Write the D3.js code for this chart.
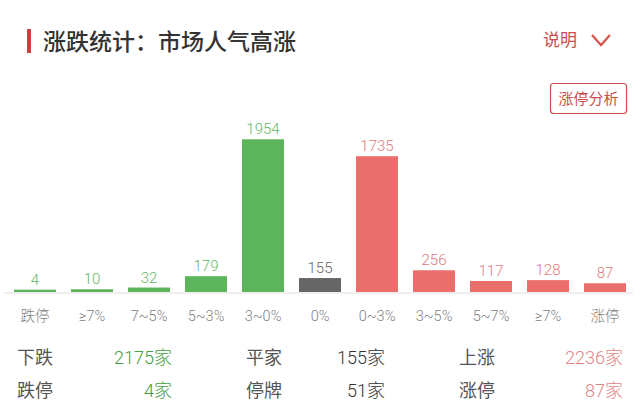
<!DOCTYPE html>
<html>
<head>
<meta charset="utf-8">
<script src="https://cdn.jsdelivr.net/npm/d3@7"></script>
<style>
html,body{margin:0;padding:0;background:#fff;}
svg{display:block;}
text{font-family:"Noto Sans CJK SC","Noto Sans",sans-serif;}
</style>
</head>
<body>
<script>
const title = "涨跌统计：市场人气高涨";
const categories = ["跌停","≥7%","7~5%","5~3%","3~0%","0%","0~3%","3~5%","5~7%","≥7%","涨停"];
const keys = categories.map((c,i)=>i+"|"+c);
const values = [4,10,32,179,1954,155,1735,256,117,128,87];
const groups = ["down","down","down","down","down","flat","up","up","up","up","up"];
const summaryLabels = [["下跌","平家","上涨"],["跌停","停牌","涨停"]];
const summaryValues = [["2175家","155家","2236家"],["4家","51家","87家"]];

const W=640,H=420;
const numFont='Roboto,"Noto Sans CJK SC",sans-serif';
const barColor={down:"#5cb55a",flat:"#666666",up:"#ea6e6c"};
const labelColor={down:"#66b766",flat:"#666666",up:"#e07a7a"};
const sumColor=["#3f9e3f","#333333","#df8585"];

const svg=d3.select("body").append("svg").attr("width",W).attr("height",H);

// header
svg.append("rect").attr("x",27).attr("y",29).attr("width",4).attr("height",24).attr("fill","#c9413e");
svg.append("text").attr("x",43).attr("y",50).attr("font-size",23).attr("font-weight",500).attr("fill","#333").text(title);
svg.append("text").attr("x",543).attr("y",46).attr("font-size",17).attr("fill","#c9504d").text("说明");
svg.append("path").attr("d","M592,35 L601,45 L610,35").attr("fill","none").attr("stroke","#d9534f").attr("stroke-width",2.2);
svg.append("rect").attr("x",550.5).attr("y",83.5).attr("width",76).attr("height",30).attr("rx",3).attr("fill","#fff").attr("stroke","#c9504d").attr("stroke-width",1.2);
svg.append("text").attr("x",588.5).attr("y",104).attr("text-anchor","middle").attr("font-size",15).attr("fill","#c9504d").text("涨停分析");

// scales
const x=d3.scaleBand().domain(keys).range([6.5,633.5]).paddingInner(15/57).paddingOuter(7.5/57);
const baseline=292;
const y=d3.scaleLinear().domain([0,d3.max(values)]).range([290,139.3]);

// axis line
svg.append("line").attr("x1",4).attr("x2",633).attr("y1",baseline+1).attr("y2",baseline+1).attr("stroke","#e8e8e8").attr("stroke-width",1.5);

const g=svg.append("g");
g.selectAll("rect.bar").data(values).join("rect").attr("class","bar")
 .attr("x",(d,i)=>x(keys[i])).attr("width",x.bandwidth())
 .attr("y",d=>y(d)).attr("height",d=>baseline-y(d))
 .attr("fill",(d,i)=>barColor[groups[i]]);
g.selectAll("text.val").data(values).join("text").attr("class","val")
 .attr("x",(d,i)=>x(keys[i])+x.bandwidth()/2).attr("y",d=>y(d)-5)
 .attr("text-anchor","middle").attr("font-size",15).attr("font-weight",300)
 .style("font-family",numFont)
 .attr("fill",(d,i)=>labelColor[groups[i]]).text(d=>d);

// x axis labels
const axis=d3.axisBottom(x).tickSize(0).tickPadding(0).tickFormat(k=>k.split("|")[1]);
const ag=svg.append("g").attr("transform",`translate(0,${baseline+1})`).call(axis);
ag.select(".domain").remove();
ag.selectAll("text").attr("y",28).attr("dy",0).attr("font-size",14.5).attr("font-weight",300).attr("fill","#808080")
  .style("font-family",numFont);

// summary
const colLabelX=[17,246,459];
const colValX=[172,385,623];
const rowY=[364,397];
summaryLabels.forEach((row,r)=>{
  row.forEach((lab,c)=>{
    svg.append("text").attr("x",colLabelX[c]).attr("y",rowY[r]).attr("font-size",18).attr("fill","#555").text(lab);
    svg.append("text").attr("x",colValX[c]).attr("y",rowY[r]).attr("text-anchor","end").attr("font-size",18).attr("font-weight",300)
      .style("font-family",numFont).attr("fill",sumColor[c]).text(summaryValues[r][c]);
  });
});
</script>
</body>
</html>
